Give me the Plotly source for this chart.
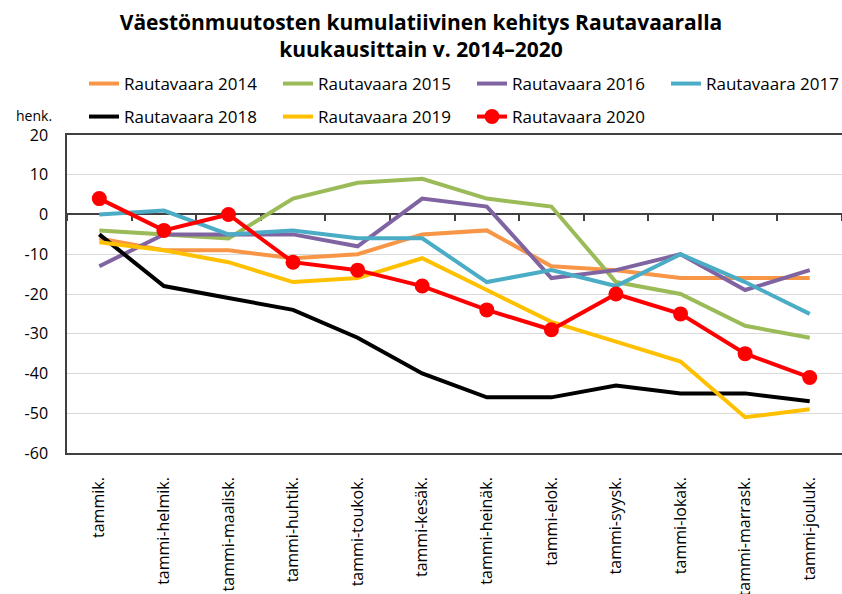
import plotly.graph_objects as go

months = ["tammik.", "tammi-helmik.", "tammi-maalisk.", "tammi-huhtik.", "tammi-toukok.",
          "tammi-kesäk.", "tammi-heinäk.", "tammi-elok.", "tammi-syysk.", "tammi-lokak.",
          "tammi-marrask.", "tammi-jouluk."]

y_ticks = [20, 10, 0, -10, -20, -30, -40, -50, -60]
y_ticktext = ["20", "10", "0", "-10", "-20", "-30", "-40", "-50", "-60"]

v2014 = [-6, -9, -9, -11, -10, -5, -4, -13, -14, -16, -16, -16]
v2015 = [-4, -5, -6, 4, 8, 9, 4, 2, -17, -20, -28, -31]
v2016 = [-13, -5, -5, -5, -8, 4, 2, -16, -14, -10, -19, -14]
v2017 = [0, 1, -5, -4, -6, -6, -17, -14, -18, -10, -17, -25]
v2018 = [-5, -18, -21, -24, -31, -40, -46, -46, -43, -45, -45, -47]
v2019 = [-7, -9, -12, -17, -16, -11, -19, -27, -32, -37, -51, -49]
v2020 = [4, -4, 0, -12, -14, -18, -24, -29, -20, -25, -35, -41]

series = [
    ("Rautavaara 2014", v2014, "#F79646", "legend"),
    ("Rautavaara 2015", v2015, "#9BBB59", "legend"),
    ("Rautavaara 2016", v2016, "#8064A2", "legend"),
    ("Rautavaara 2017", v2017, "#4BACC6", "legend"),
    ("Rautavaara 2018", v2018, "#000000", "legend2"),
    ("Rautavaara 2019", v2019, "#FFC000", "legend2"),
]

FONT = "Open Sans"

fig = go.Figure()
for name, vals, col, lg in series:
    fig.add_trace(go.Scatter(x=months, y=vals, name=name, mode="lines",
                             line=dict(color=col, width=4), legend=lg))
fig.add_trace(go.Scatter(x=months, y=v2020, name="Rautavaara 2020", mode="lines+markers",
                         line=dict(color="#FF0000", width=4),
                         marker=dict(color="#FF0000", size=15), legend="legend2"))

# dummy trace on the secondary x axis so the zero axis line exists
fig.add_trace(go.Scatter(x=months, y=[None] * len(months), xaxis="x2", showlegend=False,
                         hoverinfo="skip"))

H_TOP = 135
H_BOT = 453
def py(p):
    return (H_BOT - p) / (H_BOT - H_TOP)

def px(p):
    return (p - 67) / (842 - 67)

fig.update_layout(
    width=842, height=594,
    margin=dict(l=67, r=0, t=H_TOP, b=594 - H_BOT, autoexpand=False),
    paper_bgcolor="white", plot_bgcolor="white",
    font=dict(family=FONT, color="#000000"),
    title=dict(text="<b>Väestönmuutosten kumulatiivinen kehitys Rautavaaralla<br>kuukausittain v. 2014–2020</b>",
               x=0.5, xanchor="center", xref="container",
               y=1 - 30 / 594, yanchor="middle", yref="container",
               font=dict(family=FONT, size=21, color="#000000")),
    xaxis=dict(type="category", categoryorder="array", categoryarray=months,
               range=[-0.5, 11.5], showgrid=False, zeroline=False,
               showline=True, linecolor="#404040", linewidth=1.5, mirror=True,
               ticks="", tickangle=-90, ticklabelstandoff=16,
               tickfont=dict(family=FONT, size=16, color="#000000")),
    xaxis2=dict(type="category", categoryorder="array", categoryarray=months,
                overlaying="x", matches="x", anchor="free", position=py(214),
                side="bottom", showgrid=False, zeroline=False,
                showline=True, linecolor="#404040", linewidth=1.5,
                ticks="outside", ticklen=6, tickcolor="#404040", tickwidth=1.5,
                tickson="boundaries", showticklabels=False, layer="below traces"),
    yaxis=dict(range=[-60, 20], tickmode="array", tickvals=y_ticks, ticktext=y_ticktext,
               showgrid=True, gridcolor="#D9D9D9", gridwidth=1,
               zeroline=False, showline=True, linecolor="#404040", linewidth=1.5,
               ticks="", ticklabelstandoff=14,
               tickfont=dict(family=FONT, size=16, color="#000000")),
    legend=dict(orientation="h", x=px(84), xanchor="left", y=py(84), yanchor="middle",
                entrywidth=149, entrywidthmode="pixels",
                font=dict(family=FONT, size=17, color="#000000"), bgcolor="rgba(0,0,0,0)"),
    legend2=dict(orientation="h", x=px(84), xanchor="left", y=py(117), yanchor="middle",
                 entrywidth=149, entrywidthmode="pixels",
                 font=dict(family=FONT, size=17, color="#000000"), bgcolor="rgba(0,0,0,0)"),
    annotations=[dict(text="henk.", x=px(54), xref="paper", xanchor="right",
                      y=py(115), yref="paper", yanchor="middle", showarrow=False,
                      font=dict(family=FONT, size=14, color="#000000"))],
)

fig.write_html("out.html", config={"displayModeBar": False},
               post_script="document.body.style.margin='0';")
